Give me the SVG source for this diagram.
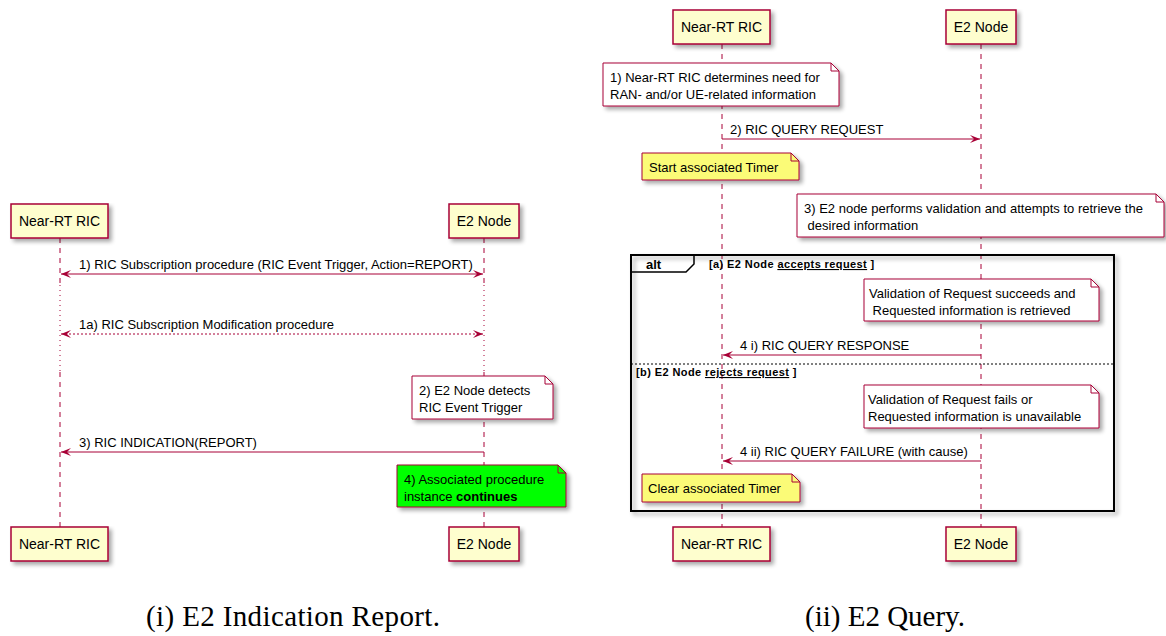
<svg xmlns="http://www.w3.org/2000/svg" width="1166" height="636" viewBox="0 0 1166 636">
  <defs>
    <filter id="shadow" x="-10%" y="-10%" width="130%" height="140%">
      <feGaussianBlur in="SourceAlpha" stdDeviation="2"/>
      <feOffset dx="3" dy="3" result="blur"/>
      <feComponentTransfer><feFuncA type="linear" slope="0.35"/></feComponentTransfer>
      <feMerge><feMergeNode/><feMergeNode in="SourceGraphic"/></feMerge>
    </filter>
    <marker id="head" viewBox="0 0 10 8" refX="10" refY="4" markerWidth="10" markerHeight="8" markerUnits="userSpaceOnUse" orient="auto-start-reverse">
      <path d="M0,0 L10,4 L0,8 L4,4 Z" fill="#A80036"/>
    </marker>
    <style>
      text { font-family: "Liberation Sans", Arial, sans-serif; fill: #000; }
      .part rect { fill: #FEFECE; stroke: #A80036; stroke-width: 1.5; }
      .part text { font-size: 14px; text-anchor: middle; }
      .life { stroke: #A80036; stroke-width: 1; stroke-dasharray: 5,5; fill: none; }
      .delay { stroke: #A80036; stroke-width: 1; stroke-dasharray: 1,4; fill: none; }
      .msg { stroke: #A80036; stroke-width: 1; fill: none; }
      .msg.dot { stroke-dasharray: 2,2; }
      .lbl { font-size: 13px; }
      .note path { stroke: #A80036; stroke-width: 1; }
      .note text { font-size: 13px; }
      .white { fill: #FFFFFF; }
      .yellow { fill: #FBFB77; }
      .green { fill: #00FF00; }
      .fold { fill: none; }
      .frame { fill: none; stroke: #000; stroke-width: 2; }
      .guard { font-size: 11px; font-weight: bold; letter-spacing: 0.4px; }
      .caption { font-family: "Liberation Serif", "Times New Roman", serif; font-size: 29px; text-anchor: middle; }
    </style>
  </defs>

  <rect width="1166" height="636" fill="#FFFFFF"/>

  <!-- ===== Left: E2 Indication Report ===== -->
  <g id="left-lifelines">
    <path class="life" d="M60,238 V285 M60,372 V527"/>
    <path class="delay" d="M60,285 V372"/>
    <path class="life" d="M484,238 V285 M484,372 V527"/>
    <path class="delay" d="M484,285 V372"/>
  </g>

  <g id="left-ric-top" class="part">
    <rect x="11" y="204" width="97" height="34" filter="url(#shadow)"/>
    <text x="59.5" y="226">Near-RT RIC</text>
  </g>
  <g id="left-e2-top" class="part">
    <rect x="449" y="204" width="70" height="34" filter="url(#shadow)"/>
    <text x="484" y="226">E2 Node</text>
  </g>
  <g id="left-ric-bottom" class="part">
    <rect x="11" y="527" width="97" height="34" filter="url(#shadow)"/>
    <text x="59.5" y="549">Near-RT RIC</text>
  </g>
  <g id="left-e2-bottom" class="part">
    <rect x="449" y="527" width="70" height="34" filter="url(#shadow)"/>
    <text x="484" y="549">E2 Node</text>
  </g>

  <g id="left-note-detect" class="note">
    <path class="white" d="M412,376 H545 L553,384 V419 H412 Z" filter="url(#shadow)"/>
    <path class="fold" d="M545,376 V384 H553"/>
    <text x="419" y="395">2) E2 Node detects</text>
    <text x="419" y="412">RIC Event Trigger</text>
  </g>
  <g id="left-note-continues" class="note">
    <path class="green" d="M397,465 H558 L566,473 V507 H397 Z" filter="url(#shadow)"/>
    <path class="fold" d="M558,465 V473 H566"/>
    <text x="404" y="484">4) Associated procedure</text>
    <text x="404" y="501">instance <tspan font-weight="bold">continues</tspan></text>
  </g>

  <g id="left-connectors">
    <line class="msg" x1="61" y1="274" x2="483" y2="274" marker-start="url(#head)" marker-end="url(#head)"/>
    <text class="lbl" x="79" y="269">1) RIC Subscription procedure (RIC Event Trigger, Action=REPORT)</text>
    <line class="msg dot" x1="61" y1="334" x2="483" y2="334" marker-start="url(#head)" marker-end="url(#head)"/>
    <text class="lbl" x="79" y="329">1a) RIC Subscription Modification procedure</text>
    <line class="msg" x1="484" y1="452" x2="61" y2="452" marker-end="url(#head)"/>
    <text class="lbl" x="79" y="447">3) RIC INDICATION(REPORT)</text>
  </g>

  <text class="caption" x="293" y="626" textLength="294" lengthAdjust="spacing">(i) E2 Indication Report.</text>

  <!-- ===== Right: E2 Query ===== -->
  <g id="right-lifelines">
    <path class="life" d="M722,44 V527"/>
    <path class="life" d="M981,44 V527"/>
  </g>

  <g id="right-ric-top" class="part">
    <rect x="673" y="10" width="97" height="34" filter="url(#shadow)"/>
    <text x="721.5" y="32">Near-RT RIC</text>
  </g>
  <g id="right-e2-top" class="part">
    <rect x="946" y="10" width="70" height="34" filter="url(#shadow)"/>
    <text x="981" y="32">E2 Node</text>
  </g>
  <g id="right-ric-bottom" class="part">
    <rect x="673" y="527" width="97" height="34" filter="url(#shadow)"/>
    <text x="721.5" y="549">Near-RT RIC</text>
  </g>
  <g id="right-e2-bottom" class="part">
    <rect x="946" y="527" width="70" height="34" filter="url(#shadow)"/>
    <text x="981" y="549">E2 Node</text>
  </g>

  <g id="note-need" class="note">
    <path class="white" d="M603,63 H831 L839,71 V106 H603 Z" filter="url(#shadow)"/>
    <path class="fold" d="M831,63 V71 H839"/>
    <text x="610" y="82">1) Near-RT RIC determines need for</text>
    <text x="610" y="99">RAN- and/or UE-related information</text>
  </g>
  <g id="note-start-timer" class="note">
    <path class="yellow" d="M642,153 H791 L799,161 V180 H642 Z" filter="url(#shadow)"/>
    <path class="fold" d="M791,153 V161 H799"/>
    <text x="649" y="172">Start associated Timer</text>
  </g>
  <g id="note-validation" class="note">
    <path class="white" d="M797,194 H1156 L1164,202 V237 H797 Z" filter="url(#shadow)"/>
    <path class="fold" d="M1156,194 V202 H1164"/>
    <text x="804" y="213">3) E2 node performs validation and attempts to retrieve the</text>
    <text x="804" y="230" xml:space="preserve"> desired information</text>
  </g>

  <g id="alt-frame">
    <rect class="frame" x="631" y="255" width="483" height="256" filter="url(#shadow)"/>
    <path d="M631,272 H686 L694,264 V255" fill="none" stroke="#000" stroke-width="1.5"/>
    <text x="646" y="269" font-size="13" font-weight="bold">alt</text>
    <text class="guard" x="709" y="268">[a) E2 Node <tspan text-decoration="underline">accepts request</tspan> ]</text>
    <line x1="631" y1="364" x2="1114" y2="364" stroke="#000" stroke-width="1" stroke-dasharray="2,2"/>
    <text class="guard" x="636" y="376">[b) E2 Node <tspan text-decoration="underline">rejects request</tspan> ]</text>
  </g>

  <g id="note-success" class="note">
    <path class="white" d="M864,279 H1091 L1099,287 V321 H864 Z" filter="url(#shadow)"/>
    <path class="fold" d="M1091,279 V287 H1099"/>
    <text x="869" y="298">Validation of Request succeeds and</text>
    <text x="869" y="315" xml:space="preserve"> Requested information is retrieved</text>
  </g>
  <g id="note-failure" class="note">
    <path class="white" d="M864,385 H1091 L1099,393 V428 H864 Z" filter="url(#shadow)"/>
    <path class="fold" d="M1091,385 V393 H1099"/>
    <text x="868" y="404">Validation of Request fails or</text>
    <text x="868" y="421">Requested information is unavailable</text>
  </g>
  <g id="note-clear-timer" class="note">
    <path class="yellow" d="M642,474 H792 L800,482 V502 H642 Z" filter="url(#shadow)"/>
    <path class="fold" d="M792,474 V482 H800"/>
    <text x="648" y="493">Clear associated Timer</text>
  </g>

  <g id="right-connectors">
    <line class="msg" x1="722" y1="139" x2="980" y2="139" marker-end="url(#head)"/>
    <text class="lbl" x="730" y="134">2) RIC QUERY REQUEST</text>
    <line class="msg" x1="981" y1="355" x2="723" y2="355" marker-end="url(#head)"/>
    <text class="lbl" x="740" y="350">4 i) RIC QUERY RESPONSE</text>
    <line class="msg" x1="981" y1="461" x2="723" y2="461" marker-end="url(#head)"/>
    <text class="lbl" x="740" y="456">4 ii) RIC QUERY FAILURE (with cause)</text>
  </g>

  <text class="caption" x="885" y="626">(ii) E2 Query.</text>
</svg>
